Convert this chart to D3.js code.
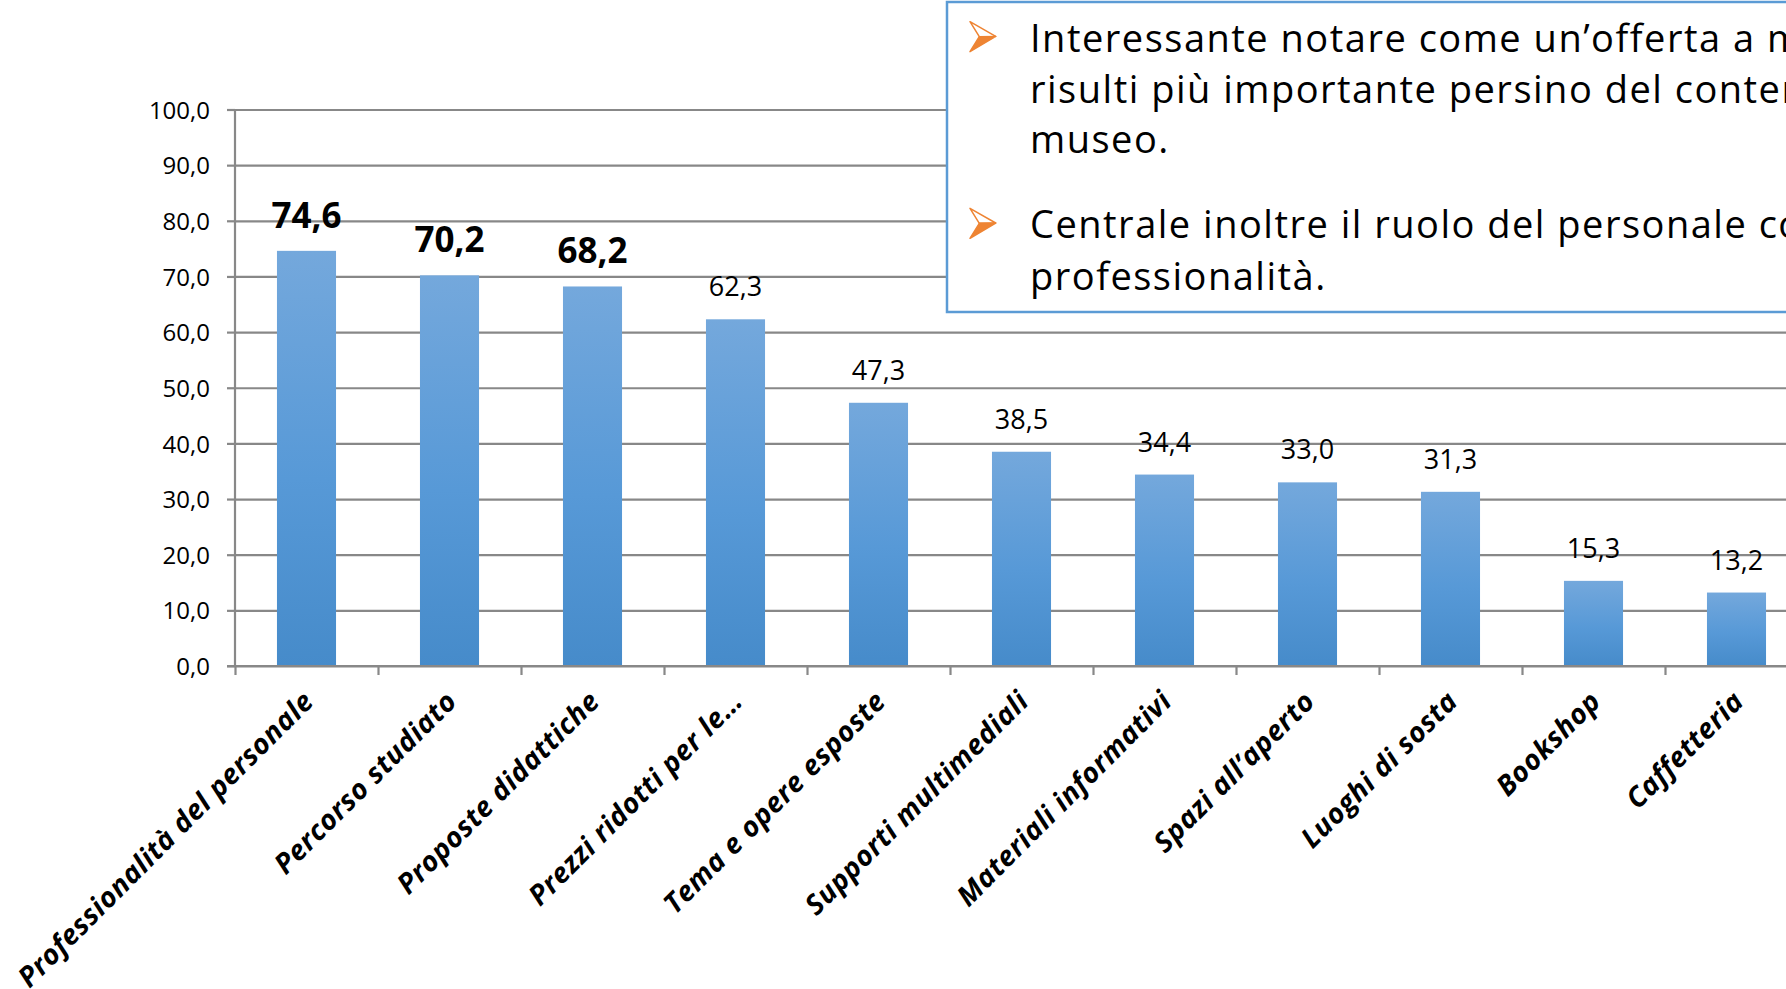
<!DOCTYPE html>
<html>
<head>
<meta charset="utf-8">
<script src="https://cdn.jsdelivr.net/npm/d3@7"></script>
<style>
  html, body { margin: 0; padding: 0; background: #fff; overflow: hidden; }
  svg { display: block; }
</style>
</head>
<body>
<main></main>
<script>
const categories = ["Professionalità del personale", "Percorso studiato", "Proposte didattiche",
    "Prezzi ridotti per le…", "Tema e opere esposte", "Supporti multimediali",
    "Materiali informativi", "Spazi all’aperto", "Luoghi di sosta", "Bookshop", "Caffetteria"]
const values = [74.6, 70.2, 68.2, 62.3, 47.3, 38.5, 34.4, 33.0, 31.3, 15.3, 13.2]
const highlighted = [true, true, true, false, false, false, false, false, false, false, false]
const yTicks = [0, 10, 20, 30, 40, 50, 60, 70, 80, 90, 100]

const notes = [
    ["Interessante notare come un’offerta a misura di famiglia",
     "risulti più importante persino del contenuto del",
     "museo."],
    ["Centrale inoltre il ruolo del personale con la sua",
     "professionalità."]
]

const width = 1786
const height = 989
const plot = { left: 235, right: 235 + 11 * 143, top: 109.5, bottom: 666 }
const font = "'Open Sans', sans-serif"
const grey = "#888888"

const it = d3.formatLocale({ decimal: ",", thousands: ".", grouping: [3], currency: ["", "€"] })
const fmt = it.format(".1f")

let svg = d3.select("main")
    .append("svg")
    .attr("width", width)
    .attr("height", height)
    .attr("viewBox", [0, 0, width, height])

let grad = svg.append("defs").append("linearGradient")
    .attr("id", "barFill")
    .attr("x1", 0).attr("y1", 0).attr("x2", 0).attr("y2", 1)
grad.append("stop").attr("offset", "0%").attr("stop-color", "#74a8dc")
grad.append("stop").attr("offset", "55%").attr("stop-color", "#5799d7")
grad.append("stop").attr("offset", "100%").attr("stop-color", "#468bca")

let x = d3.scaleBand()
    .domain(categories)
    .range([plot.left, plot.right])
    .paddingInner(0.587)
    .paddingOuter(0.2935)

let xTicks = d3.scaleLinear()
    .domain([0, categories.length])
    .range([plot.left, plot.right])

let y = d3.scaleLinear()
    .domain([0, 100])
    .range([plot.bottom, plot.top])

// gridlines
svg.append("g")
    .attr("transform", `translate(${plot.left}, 0)`)
    .call(d3.axisLeft(y).tickValues(yTicks).tickSize(-(width - plot.left + 40)).tickFormat(""))
    .call(g => g.select(".domain").remove())
    .call(g => g.selectAll("line").attr("stroke", grey).attr("stroke-width", 2.2))

// y axis
svg.append("g")
    .attr("transform", `translate(${plot.left}, 0)`)
    .call(d3.axisLeft(y).tickValues(yTicks).tickSize(8).tickPadding(17).tickFormat(fmt))
    .call(g => g.select(".domain").attr("stroke", grey).attr("stroke-width", 2.2)
        .attr("d", `M0,${plot.top}V${plot.bottom}`))
    .call(g => g.selectAll("line").attr("stroke", grey).attr("stroke-width", 2.2))
    .call(g => g.selectAll("text").attr("fill", "#000").style("font", `24px ${font}`).attr("dy", "0.36em"))

// bars
svg.append("g")
    .selectAll("rect")
    .data(values)
    .enter()
    .append("rect")
    .attr("x", (d, i) => x(categories[i]))
    .attr("width", x.bandwidth())
    .attr("y", d => y(d))
    .attr("height", d => y(0) - y(d))
    .attr("fill", "url(#barFill)")

// x axis
svg.append("g")
    .attr("transform", `translate(0, ${plot.bottom})`)
    .call(d3.axisBottom(xTicks).tickValues(d3.range(0, categories.length + 1)).tickSize(9).tickFormat(""))
    .call(g => g.select(".domain").attr("stroke", grey).attr("stroke-width", 2.2)
        .attr("d", `M${plot.left - 8},0H${width + 40}`))
    .call(g => g.selectAll("line").attr("stroke", grey).attr("stroke-width", 2.2))

// category labels
svg.append("g")
    .selectAll("text")
    .data(categories)
    .enter()
    .append("text")
    .attr("transform", d => `translate(${x(d) + x.bandwidth() / 2 + 2}, ${plot.bottom + 30}) rotate(-45)`)
    .attr("text-anchor", "end")
    .attr("dy", "0.35em")
    .style("font", `italic bold 28px ${font}`)
    .style("letter-spacing", "0.6px")
    .text(d => d)

// data labels
svg.append("g")
    .selectAll("text")
    .data(values)
    .enter()
    .append("text")
    .attr("x", (d, i) => x(categories[i]) + x.bandwidth() / 2)
    .attr("y", d => y(d) - 23)
    .attr("text-anchor", "middle")
    .style("font", (d, i) => highlighted[i] ? `bold 35px ${font}` : `27px ${font}`)
    .text(d => fmt(d))

// note box
let box = svg.append("g")
box.append("rect")
    .attr("x", 947)
    .attr("y", 2)
    .attr("width", 1000)
    .attr("height", 310)
    .attr("fill", "#fff")
    .attr("stroke", "#5b9bd5")
    .attr("stroke-width", 2.5)

const paraTop = [21.7, 208.3]
const lineBase = [[51.7, 102.5, 153.3], [238.3, 290]]

notes.forEach((lines, p) => {
    let b = box.append("g").attr("transform", `translate(970, ${paraTop[p]})`)
    b.append("path")
        .attr("d", "M0,0L25.7,14.7L9.3,15Z")
        .attr("fill", "#fff")
        .attr("stroke", "#ee8433")
        .attr("stroke-width", 1.5)
        .attr("stroke-linejoin", "round")
    b.append("path")
        .attr("d", "M9.3,15L25.7,14.7L0,30Z")
        .attr("fill", "#ee8433")
        .attr("stroke", "#ee8433")
        .attr("stroke-width", 1.5)
        .attr("stroke-linejoin", "round")

    box.append("g")
        .selectAll("text")
        .data(lines)
        .enter()
        .append("text")
        .attr("x", 1030)
        .attr("y", (d, i) => lineBase[p][i])
        .style("font", `38px ${font}`)
        .style("letter-spacing", "1.5px")
        .text(d => d)
})
</script>
</body>
</html>
